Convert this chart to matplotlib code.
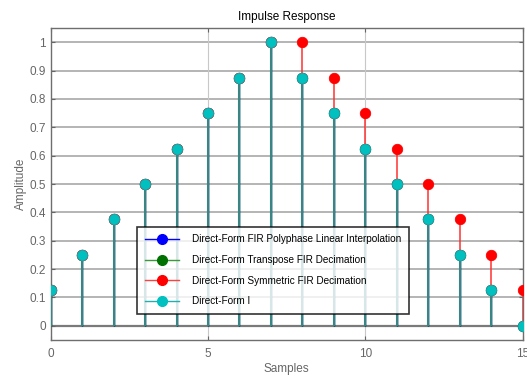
import numpy as np
import matplotlib
matplotlib.use("Agg")
import matplotlib.pyplot as plt
from matplotlib.lines import Line2D
from matplotlib.legend_handler import HandlerLine2D

plt.rcParams['font.family'] = ['Liberation Sans', 'DejaVu Sans']

# =========================
# Data
# =========================
samples = np.arange(16)
polyphase_interp = [0.125, 0.25, 0.375, 0.5, 0.625, 0.75, 0.875, 1.0,
                    0.875, 0.75, 0.625, 0.5, 0.375, 0.25, 0.125, 0.0]
transpose_dec = [0.125, 0.25, 0.375, 0.5, 0.625, 0.75, 0.875, 1.0,
                 0.875, 0.75, 0.625, 0.5, 0.375, 0.25, 0.125, 0.0]
symmetric_dec = [0.125, 0.25, 0.375, 0.5, 0.625, 0.75, 0.875, 1.0,
                 1.0, 0.875, 0.75, 0.625, 0.5, 0.375, 0.25, 0.125]
direct_form_1 = [0.125, 0.25, 0.375, 0.5, 0.625, 0.75, 0.875, 1.0,
                 0.875, 0.75, 0.625, 0.5, 0.375, 0.25, 0.125, 0.0]

labels = ['Direct-Form FIR Polyphase Linear Interpolation',
          'Direct-Form Transpose FIR Decimation',
          'Direct-Form Symmetric FIR Decimation',
          'Direct-Form I']

grey = '#666666'

fig = plt.figure(figsize=(5.27, 3.79), dpi=100)
ax = fig.add_axes([0.0962, 0.103, 0.8956, 0.823])

# grid
for yv in np.arange(0.1, 1.01, 0.1):
    ax.axhline(yv, color='#b4b4b4', linewidth=1.4, zorder=0)
for xv in [5, 10]:
    ax.axvline(xv, color='#c8c8c8', linewidth=0.8, zorder=0)
ax.axhline(0, color='#7a7a7a', linewidth=1.6, zorder=1)


def draw_stem(y, line_col, face, edge, lw, z):
    markerline, stemlines, baseline = ax.stem(samples, y, basefmt=' ')
    stemlines.set_color(line_col)
    stemlines.set_linewidth(lw)
    stemlines.set_zorder(z)
    markerline.set_marker('o')
    markerline.set_markersize(7.5)
    markerline.set_markerfacecolor(face)
    markerline.set_markeredgecolor(edge)
    markerline.set_markeredgewidth(0.6)
    markerline.set_zorder(z + 0.5)


draw_stem(polyphase_interp, '#0000ff', '#0000ff', '#0000ff', 1.0, 2)
draw_stem(transpose_dec, '#008000', '#008000', '#008000', 1.0, 3)
draw_stem(symmetric_dec, '#ff3030', '#ff0000', '#ff0000', 1.1, 4)
draw_stem(direct_form_1, '#3a8484', '#00c0c0', '#20a8a8', 1.5, 5)

ax.set_xlim(0, 15)
ax.set_ylim(-0.05, 1.05)
ax.set_xticks([0, 5, 10, 15])
ax.set_yticks(np.round(np.arange(0, 1.01, 0.1), 1))
ax.set_yticklabels(['0', '0.1', '0.2', '0.3', '0.4', '0.5', '0.6', '0.7', '0.8', '0.9', '1'])
ax.tick_params(axis='both', direction='in', colors=grey, labelcolor=grey,
               labelsize=8.5, length=3, top=True, right=True)
ax.tick_params(axis='x', pad=6)
for sp in ax.spines.values():
    sp.set_color('#6e6e6e')
    sp.set_linewidth(1.0)

ax.set_title('Impulse Response', fontsize=8.5, color='black', pad=6)
ax.set_xlabel('Samples', fontsize=8.5, color=grey, labelpad=2)
ax.set_ylabel('Amplitude', fontsize=8.5, color=grey, labelpad=2)


class EndMarkerHandler(HandlerLine2D):
    def get_xdata(self, legend, xdescent, ydescent, width, height, fontsize):
        xdata, _ = super().get_xdata(legend, xdescent, ydescent, width, height, fontsize)
        return xdata, np.array([xdata[-1]])


handles = [
    Line2D([], [], color='#0000ff', linewidth=1.0, marker='o', markersize=7,
           markerfacecolor='#0000ff', markeredgecolor='#0000ff'),
    Line2D([], [], color='#3a9a3a', linewidth=1.0, marker='o', markersize=7,
           markerfacecolor='#007000', markeredgecolor='#007000'),
    Line2D([], [], color='#ff4040', linewidth=1.0, marker='o', markersize=7,
           markerfacecolor='#ff0000', markeredgecolor='#ff0000'),
    Line2D([], [], color='#20b0b0', linewidth=1.0, marker='o', markersize=7,
           markerfacecolor='#00c0c0', markeredgecolor='#00c0c0'),
]
leg = ax.legend(handles, labels, loc='upper left',
                bbox_to_anchor=(137 / 527, 1 - 227 / 379), bbox_transform=fig.transFigure,
                handler_map={Line2D: EndMarkerHandler()}, numpoints=1,
                fontsize=7.2, frameon=True, fancybox=False, handlelength=3.4,
                handletextpad=1.4, labelspacing=1.05, borderpad=0.75, borderaxespad=0)
leg.get_frame().set_edgecolor('black')
leg.get_frame().set_linewidth(1.2)
leg.set_zorder(10)

plt.savefig('out.png', dpi=100)
